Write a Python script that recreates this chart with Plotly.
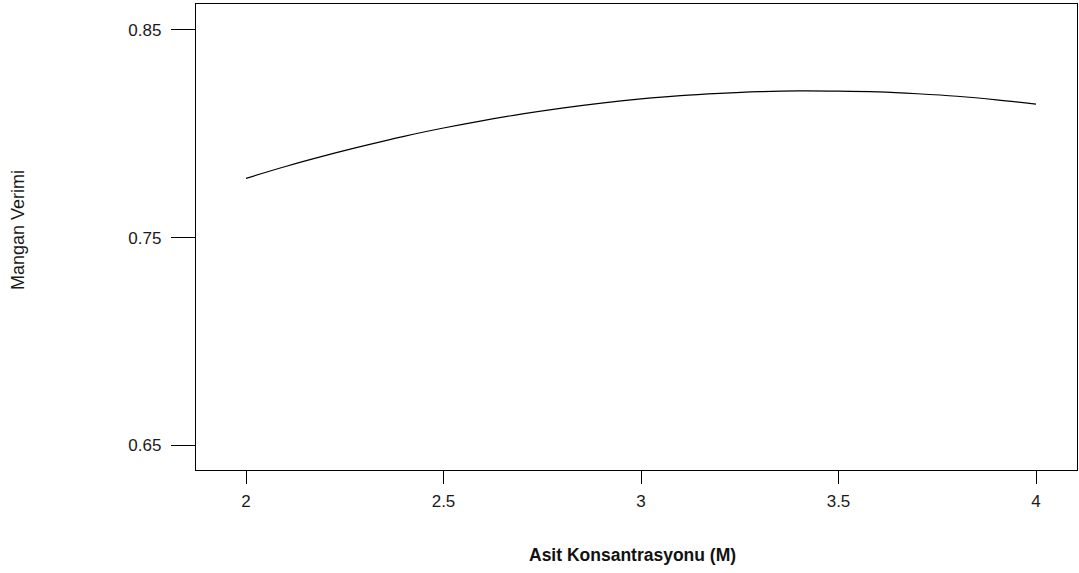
import plotly.graph_objects as go

acid_conc = [2.0, 2.1, 2.2, 2.3, 2.4, 2.5, 2.6, 2.7, 2.8, 2.9, 3.0,
             3.1, 3.2, 3.3, 3.4, 3.5, 3.6, 3.7, 3.8, 3.9, 4.0]
mn_yield = [0.7786, 0.7843, 0.7895, 0.7943, 0.7988, 0.8028, 0.8064, 0.8096,
            0.8124, 0.8148, 0.8168, 0.8184, 0.8195, 0.8203, 0.8207, 0.8206,
            0.8202, 0.8193, 0.8181, 0.8164, 0.8143]

x_ticks = [2, 2.5, 3, 3.5, 4]
x_tick_labels = ["2", "2.5", "3", "3.5", "4"]
y_ticks = [0.65, 0.75, 0.85]
y_tick_labels = ["0.65", "0.75", "0.85"]

x_title = "Asit Konsantrasyonu (M)"
y_title = "Mangan Verimi"

fig = go.Figure()
fig.add_trace(go.Scatter(x=acid_conc, y=mn_yield, mode="lines",
                         line=dict(color="black", width=1.2, shape="spline"),
                         showlegend=False, hoverinfo="skip"))

fam = "Liberation Sans, Arial, sans-serif"
font = dict(family=fam, size=17, color="#1a1a1a")

fig.update_layout(
    width=1079, height=573,
    margin=dict(l=196, r=2, t=4, b=103),
    paper_bgcolor="white", plot_bgcolor="white",
    font=font,
    xaxis=dict(range=[1.8734, 4.1038], tickvals=x_ticks, ticktext=x_tick_labels,
               ticks="outside", ticklen=13, tickwidth=1.3, tickcolor="black",
               showline=True, linecolor="black", linewidth=1.3, mirror=True,
               showgrid=False, zeroline=False, ticklabelstandoff=2),
    yaxis=dict(range=[0.6382, 0.8625], tickvals=y_ticks, ticktext=y_tick_labels,
               ticks="outside", ticklen=24, tickwidth=1.3, tickcolor="black",
               showline=True, linecolor="black", linewidth=1.3, mirror=True,
               showgrid=False, zeroline=False, ticklabelstandoff=6),
    annotations=[
        dict(text="<b>" + x_title + "</b>", xref="paper", yref="paper",
             x=0.495, y=0, yshift=-97, showarrow=False,
             font=dict(family=fam, size=17.5, color="#111111")),
        dict(text=y_title, xref="paper", yref="paper",
             x=0, xshift=-190, y=0.515, textangle=-90, showarrow=False,
             font=dict(family=fam, size=18, color="#1a1a1a")),
    ],
)

fig.write_html("out.html", config={"displayModeBar": False},
               post_script="document.body.style.margin='0';")
